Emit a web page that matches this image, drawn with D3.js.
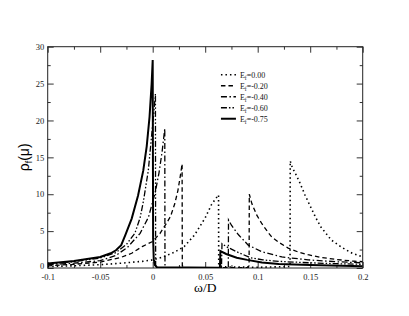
<!DOCTYPE html>
<html>
<head>
<meta charset="utf-8">
<script src="https://d3js.org/d3.v7.min.js"></script>
<style>
  body { margin: 0; background: #fff; }
  svg { display: block; }
  .tick text { font-family: "Liberation Serif", "Times New Roman", serif; font-size: 8.5px; fill: #222; }
  .tick line { stroke: #333; }
</style>
</head>
<body>
<svg id="chart"></svg>
<script>
// omega/D, rho_f(mu) pairs, one array per E_f curve
const ef000 = [[-0.1,0.2],[-0.075,0.3],[-0.05,0.45],[-0.03,0.65],[-0.01,0.9],[0,1.1],[0.01,1.5],[0.02,2.1],
  [0.03,2.9],[0.04,4.5],[0.05,6.8],[0.056,8.6],[0.06,9.4],[0.0627,9.9],[0.0629,0.3],[0.07,0.15],[0.1,0.1],
  [0.1308,0.2],[0.131,14.5],[0.133,13.6],[0.136,12.8],[0.14,11.6],[0.145,9.9],[0.15,8.4],[0.155,6.9],
  [0.16,5.6],[0.17,3.8],[0.18,2.8],[0.19,2.0],[0.2,1.5]];
const ef020 = [[-0.1,0.3],[-0.075,0.5],[-0.05,0.8],[-0.03,1.45],[-0.02,2.0],[-0.01,2.9],[0,3.6],[0.007,4.7],
  [0.012,5.8],[0.017,7.0],[0.021,8.7],[0.024,10.5],[0.026,12.2],[0.028,14.1],[0.0282,0.3],[0.03,0.05],
  [0.09,0.05],[0.0918,0.3],[0.092,10.0],[0.0945,8.7],[0.099,7.2],[0.104,6.0],[0.11,4.8],[0.1134,4.2],
  [0.12,3.5],[0.129,2.7],[0.138,2.2],[0.148,1.8],[0.16,1.45],[0.175,1.15],[0.19,0.95],[0.2,0.85]];
const ef040 = [[-0.1,0.45],[-0.075,0.65],[-0.05,1.0],[-0.035,1.7],[-0.024,2.8],[-0.012,4.7],[-0.004,6.9],
  [0.0025,10.3],[0.006,12.9],[0.009,15.8],[0.0115,18.9],[0.0117,0.3],[0.013,0.05],[0.072,0.05],[0.0722,6.5],
  [0.075,5.8],[0.0817,4.5],[0.091,3.1],[0.104,2.2],[0.123,1.5],[0.148,1.1],[0.175,0.85],[0.2,0.7]];
const ef060 = [[-0.1,0.55],[-0.075,0.85],[-0.05,1.35],[-0.035,2.1],[-0.025,3.2],[-0.017,4.7],[-0.012,6.8],
  [-0.0089,9.0],[-0.0042,13.2],[-0.001,18.0],[0.001,21.0],[0.0026,23.6],[0.0028,0.3],[0.004,0.05],
  [0.0655,0.05],[0.066,3.3],[0.07,2.9],[0.08,2.2],[0.093,1.4],[0.105,1.1],[0.12,0.9],[0.15,0.7],
  [0.175,0.58],[0.2,0.5]];
const ef075 = [[-0.1,0.6],[-0.075,0.95],[-0.05,1.5],[-0.04,2.0],[-0.035,2.4],[-0.03,3.1],[-0.026,4.5],
  [-0.02,6.7],[-0.014,9.8],[-0.009,13.2],[-0.0057,16.5],[-0.003,20.5],[-0.001,25.0],[0,28.2],[0.0004,4.0],
  [0.001,1.2],[0.002,0.4],[0.004,0.1],[0.064,0.05],[0.0645,2.3],[0.07,1.9],[0.08,1.4],[0.09,1.1],
  [0.104,0.75],[0.12,0.55],[0.15,0.4],[0.2,0.25]];

const legendLabels = ["0.00", "-0.20", "-0.40", "-0.60", "-0.75"];
const xTicks = [-0.1, -0.05, 0, 0.05, 0.1, 0.15, 0.2];
const yTicks = [0, 5, 10, 15, 20, 25, 30];

class DosChart {
  constructor(_config) {
    this.config = {
      parentElement: _config.parentElement,
      containerWidth: _config.containerWidth || 409,
      containerHeight: _config.containerHeight || 316,
      margin: { top: 46.7, right: 46.3, bottom: 48, left: 47.7 }
    };
    this.series = _config.series;
    this.initVis();
  }

  initVis() {
    let vis = this;
    const m = vis.config.margin;
    vis.width = vis.config.containerWidth - m.left - m.right;
    vis.height = vis.config.containerHeight - m.top - m.bottom;

    vis.svg = d3.select(vis.config.parentElement)
      .attr('width', vis.config.containerWidth)
      .attr('height', vis.config.containerHeight);

    vis.chart = vis.svg.append('g')
      .attr('transform', `translate(${m.left},${m.top})`);

    vis.x = d3.scaleLinear().domain([-0.1, 0.2]).range([0, vis.width]);
    vis.y = d3.scaleLinear().domain([0, 30]).range([vis.height, 0]);

    vis.chart.append('clipPath').attr('id', 'plotClip')
      .append('rect').attr('width', vis.width).attr('height', vis.height);

    vis.update();
  }

  update() {
    let vis = this;
    const m = vis.config.margin;
    const fmt = d => String(Math.round(d * 100) / 100);
    const xMinor = d3.range(-0.075, 0.2, 0.05);
    const yMinor = d3.range(2.5, 30, 5);

    // ticks point inward on all four sides
    const axes = [
      [d3.axisBottom(vis.x).tickValues(xTicks).tickFormat(fmt), `translate(0,${vis.height})`, true, 5.5],
      [d3.axisBottom(vis.x).tickValues(xMinor).tickFormat(''), `translate(0,${vis.height})`, false, 5],
      [d3.axisTop(vis.x).tickValues(xTicks).tickFormat(''), null, true, 3],
      [d3.axisTop(vis.x).tickValues(xMinor).tickFormat(''), null, false, 3],
      [d3.axisLeft(vis.y).tickValues(yTicks).tickFormat(fmt), null, true, 3.5],
      [d3.axisLeft(vis.y).tickValues(yMinor).tickFormat(''), null, false, 3.5],
      [d3.axisRight(vis.y).tickValues(yTicks).tickFormat(''), `translate(${vis.width},0)`, true, 3],
      [d3.axisRight(vis.y).tickValues(yMinor).tickFormat(''), `translate(${vis.width},0)`, false, 3]
    ];
    axes.forEach(([ax, tr, major, pad]) => {
      const g = vis.chart.append('g')
        .call(ax.tickSize(major ? -6 : -3).tickSizeOuter(0).tickPadding(pad));
      if (tr) g.attr('transform', tr);
      g.select('.domain').remove();
    });
    // the "0" on the y axis sits just above the "-0.1" of the x axis
    vis.chart.selectAll('.tick text')
      .filter(function(d) { return d === 0 && this.getAttribute('x') !== null && +this.getAttribute('x') < 0; })
      .attr('dy', '0.1em');

    vis.chart.append('rect')
      .attr('width', vis.width).attr('height', vis.height)
      .attr('fill', 'none').attr('stroke', '#222').attr('stroke-width', 1);

    const line = d3.line()
      .x(d => vis.x(d[0]))
      .y(d => vis.y(d[1]));

    vis.chart.append('g')
      .attr('clip-path', 'url(#plotClip)')
      .selectAll('path')
      .data(vis.series)
      .join('path')
      .attr('d', d => line(d.values))
      .attr('fill', 'none')
      .attr('stroke', '#000')
      .attr('stroke-width', d => d.width)
      .attr('stroke-dasharray', d => d.dash);

    // legend
    const legend = vis.chart.append('g')
      .attr('transform', `translate(${vis.x(0.065)},${vis.y(26.2)})`);
    const item = legend.selectAll('g')
      .data(vis.series)
      .join('g')
      .attr('transform', (d, i) => `translate(0,${i * 11})`);
    item.append('line')
      .attr('x1', 0).attr('x2', 15)
      .attr('stroke', '#000')
      .attr('stroke-width', d => d.width)
      .attr('stroke-dasharray', d => d.dash);
    const lt = item.append('text')
      .attr('x', 19).attr('y', 3)
      .style('font-family', '"Liberation Serif", serif')
      .style('font-size', '8px')
      .style('fill', '#111');
    lt.append('tspan').text('E');
    lt.append('tspan').attr('dy', 2).style('font-size', '5.5px').text('f');
    lt.append('tspan').attr('dy', -2).text((d, i) => '=' + legendLabels[i]);

    // axis titles
    const yl = vis.svg.append('text')
      .attr('transform', `translate(29,${m.top + vis.height / 2}) rotate(-90)`)
      .attr('text-anchor', 'middle')
      .style('font-family', '"Liberation Sans", Arial, sans-serif')
      .style('font-size', '14px');
    yl.append('tspan').text('ρ');
    yl.append('tspan').attr('dy', 3).style('font-size', '9px').text('f');
    yl.append('tspan').attr('dy', -3).text('(μ)');

    vis.svg.append('text')
      .attr('x', m.left + vis.width / 2)
      .attr('y', 292)
      .attr('text-anchor', 'middle')
      .style('font-family', '"Liberation Serif", "Times New Roman", serif')
      .style('font-size', '13.5px')
      .text('ω/D');
  }
}

const chart = new DosChart({
  parentElement: '#chart',
  series: [
    { values: ef000, dash: '1.5,3', width: 1.6 },
    { values: ef020, dash: '4.5,3', width: 1.3 },
    { values: ef040, dash: '6,2.5,1.5,2.5', width: 1.3 },
    { values: ef060, dash: '6,2,1.5,2,1.5,2', width: 1.3 },
    { values: ef075, dash: null, width: 2 }
  ]
});
</script>
</body>
</html>
